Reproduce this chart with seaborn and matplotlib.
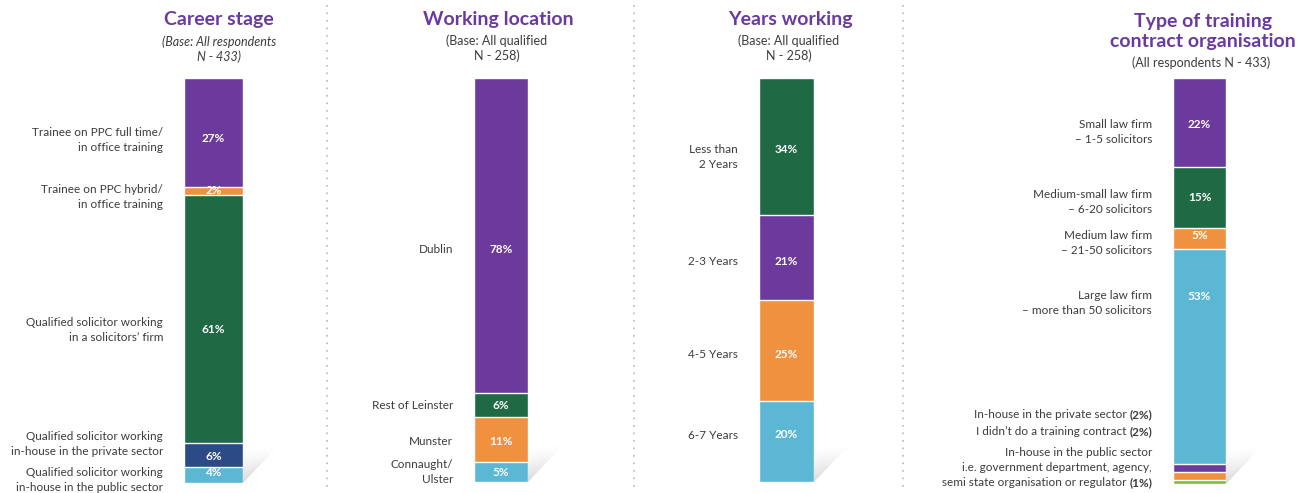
import numpy as np
import matplotlib
matplotlib.use("Agg")
from matplotlib import pyplot as plt
from matplotlib.patches import Polygon
from matplotlib.lines import Line2D
import seaborn as sns

# colours
PURPLE = "#6B3A9C"
GREEN = "#1F6A45"
ORANGE = "#F0913F"
LIGHTBLUE = "#5BB7D3"
NAVY = "#2C4A86"
LIME = "#7DBB45"
TITLE_COL = "#6A3A9E"
TEXT_COL = "#3C3C3C"

# data
career_labels = ["Trainee on PPC full time/\nin office training",
                 "Trainee on PPC hybrid/\nin office training",
                 "Qualified solicitor working\nin a solicitors’ firm",
                 "Qualified solicitor working\nin-house in the private sector",
                 "Qualified solicitor working\nin-house in the public sector"]
career_values = [27, 2, 61, 6, 4]

location_labels = ["Dublin", "Rest of Leinster", "Munster", "Connaught/\nUlster"]
location_values = [78, 6, 11, 5]

years_labels = ["Less than\n2 Years", "2-3 Years", "4-5 Years", "6-7 Years"]
years_values = [34, 21, 25, 20]

org_labels = ["Small law firm\n– 1-5 solicitors",
              "Medium-small law firm\n– 6-20 solicitors",
              "Medium law firm\n– 21-50 solicitors",
              "Large law firm\n– more than 50 solicitors",
              "In-house in the private sector",
              "I didn’t do a training contract",
              "In-house in the public sector\ni.e. government department, agency,\nsemi state organisation or regulator"]
org_values = [22, 15, 5, 53, 2, 2, 1]

W, H = 1312, 493
sns.set_style("white")
plt.rcParams["font.family"] = ["Lato", "DejaVu Sans"]

fig = plt.figure(figsize=(W / 100, H / 100), dpi=100)

# background axes in pixel units for separators and shadows
bg = fig.add_axes([0, 0, 1, 1], zorder=-1)
bg.set_xlim(0, W)
bg.set_ylim(H, 0)
bg.axis("off")

for xs in [327, 634, 903]:
    bg.add_line(Line2D([xs, xs], [5, 490], color="#b8b8b8", lw=1.2, linestyle=(0, (1, 3.5))))


def shadow(xr, yb, w=36, h=38):
    grad = np.zeros((60, 40, 4))
    rows = np.linspace(0, 1, 60)[:, None]  # 0 top -> 1 bottom
    cols = np.linspace(0, 1, 40)[None, :]
    grad[..., :3] = 0.45
    grad[..., 3] = 0.45 * rows ** 1.6 * (0.6 + 0.4 * cols)
    im = bg.imshow(grad, extent=[xr, xr + w, yb, yb - h], aspect="auto", interpolation="bilinear")
    tri = Polygon([[xr, yb], [xr + w, yb - h], [xr, yb - h]], closed=True, transform=bg.transData)
    im.set_clip_path(tri)
    bg.set_xlim(0, W)
    bg.set_ylim(H, 0)


def side_label(ax, y, dy, text, suffix=None):
    lines = text.split("\n")
    n = len(lines)
    step = 15
    renderer = fig.canvas.get_renderer()
    for k, line in enumerate(lines):
        off = dy + (k - (n - 1) / 2) * step
        xoff = -21
        if suffix is not None and k == n - 1:
            tb = ax.annotate(suffix, xy=(-0.5, y), xytext=(xoff, -off), textcoords="offset pixels",
                             ha="right", va="center", fontsize=8.5, fontweight="bold",
                             color=TEXT_COL, annotation_clip=False)
            xoff -= tb.get_window_extent(renderer=renderer).width + 3
        ax.annotate(line, xy=(-0.5, y), xytext=(xoff, -off), textcoords="offset pixels",
                    ha="right", va="center", fontsize=8.5, color=TEXT_COL, annotation_clip=False)


def panel(rect, labels, values, colors, label_dy, pct_dy, show_pct, suffixes):
    x0, y0, x1, y1 = rect
    ax = fig.add_axes([x0 / W, 1 - y1 / H, (x1 - x0) / W, (y1 - y0) / H])
    total = sum(values)
    remain = np.cumsum(values[::-1])[::-1]
    for i in range(len(values)):
        sns.barplot(x=["bar"], y=[remain[i]], color=colors[i], width=1, saturation=1,
                    edgecolor="white", linewidth=1, errorbar=None, ax=ax)
    ax.set_xlim(-0.5, 0.5)
    ax.set_ylim(0, total)
    ax.axis("off")
    for i, v in enumerate(values):
        yc = remain[i] - v / 2
        side_label(ax, yc, label_dy[i], labels[i], suffixes[i])
        if show_pct[i]:
            ax.annotate(f"{v}%", xy=(0, yc), xytext=(0, -pct_dy[i]), textcoords="offset pixels",
                        ha="center", va="center", fontsize=8.5, fontweight="bold", color="white")
    shadow(x1, y1)


panel((184, 78, 243, 483), career_labels, career_values,
      [PURPLE, ORANGE, GREEN, NAVY, LIGHTBLUE],
      [7, 6, 11, -11, 5], [6, -1, 11, 2, -2], [True] * 5, [None] * 5)

panel((474, 78, 528, 482), location_labels, location_values,
      [PURPLE, GREEN, ORANGE, LIGHTBLUE],
      [14, 0, 2, 0], [14, 0, 2, 1], [True] * 4, [None] * 4)

panel((759, 78, 814, 482), years_labels, years_values,
      [GREEN, PURPLE, ORANGE, LIGHTBLUE],
      [10, 4, 4, -6], [3, 4, 4, -7], [True] * 4, [None] * 4)

panel((1173, 78, 1226, 484), org_labels, org_values,
      [PURPLE, GREEN, ORANGE, LIGHTBLUE, PURPLE, ORANGE, LIME],
      [9, 4, 5, -53, -53, -44, -14], [2, 0, -3, -60, 0, 0, 0],
      [True, True, True, True, False, False, False],
      [None, None, None, None, "(2%)", "(2%)", "(1%)"])

# titles
titles = [(219, "Career stage"), (498, "Working location"), (790, "Years working")]
for xc, t in titles:
    fig.text(xc / W, 1 - 20 / H, t, ha="center", va="center", fontsize=14,
             fontweight="bold", color=TITLE_COL)
fig.text(1203 / W, 1 - 31.5 / H, "Type of training\ncontract organisation", ha="center", va="center",
         fontsize=14, fontweight="bold", color=TITLE_COL, linespacing=1.15)

fig.text(219 / W, 1 - 49.5 / H, "(Base: All respondents\nN - 433)", ha="center", va="center",
         fontsize=9, style="italic", color=TEXT_COL, linespacing=1.2)
fig.text(497 / W, 1 - 48.5 / H, "(Base: All qualified\nN - 258)", ha="center", va="center",
         fontsize=9, color=TEXT_COL, linespacing=1.2)
fig.text(789 / W, 1 - 48.5 / H, "(Base: All qualified\nN - 258)", ha="center", va="center",
         fontsize=9, color=TEXT_COL, linespacing=1.2)
fig.text(1201 / W, 1 - 63 / H, "(All respondents N - 433)", ha="center", va="center",
         fontsize=9, color=TEXT_COL)

fig.savefig("out.png", dpi=100)
